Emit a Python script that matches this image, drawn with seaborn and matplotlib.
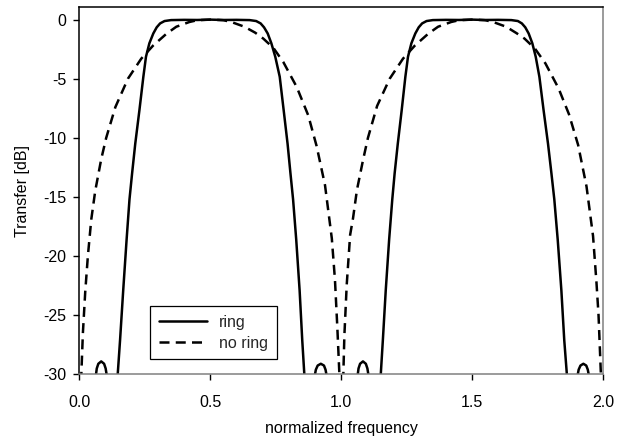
import seaborn as sns
import matplotlib.pyplot as plt
import pandas as pd
from matplotlib.lines import Line2D

# curve readings (normalized frequency, transfer in dB)
ring_main1_freq = [0.144, 0.146, 0.155, 0.167, 0.180, 0.191, 0.201, 0.213, 0.229, 0.244, 0.254, 0.267,
                   0.282, 0.295, 0.308, 0.325, 0.350, 0.400, 0.450, 0.500, 0.550, 0.600, 0.650,
                   0.675, 0.692, 0.705, 0.719, 0.733, 0.748, 0.765, 0.780, 0.795, 0.806, 0.816,
                   0.828, 0.841, 0.851, 0.859, 0.861]
ring_main1_db = [-31.0, -30.0, -27.1, -22.9, -18.6, -15.2, -13.0, -10.5, -7.65, -4.83, -3.14, -2.0,
                 -1.17, -0.65, -0.32, -0.12, -0.04, -0.02, -0.03, 0.0, -0.03, -0.02, -0.04,
                 -0.12, -0.32, -0.65, -1.17, -2.0, -3.14, -4.83, -7.65, -10.5, -13.0, -15.2,
                 -18.6, -22.9, -27.1, -30.0, -31.0]
ring_main2_freq = [1.149, 1.151, 1.159, 1.170, 1.183, 1.195, 1.204, 1.216, 1.231, 1.245, 1.255, 1.268,
                   1.283, 1.296, 1.309, 1.326, 1.350, 1.400, 1.450, 1.500, 1.550, 1.600, 1.650,
                   1.675, 1.690, 1.703, 1.716, 1.730, 1.743, 1.757, 1.773, 1.790, 1.803, 1.814,
                   1.827, 1.841, 1.852, 1.862, 1.864]
ring_main2_db = [-31.0, -30.0, -27.1, -22.9, -18.6, -15.2, -13.0, -10.5, -7.65, -4.83, -3.14, -2.0,
                 -1.17, -0.65, -0.32, -0.12, -0.04, -0.02, -0.03, 0.0, -0.03, -0.02, -0.04,
                 -0.12, -0.32, -0.65, -1.17, -2.0, -3.14, -4.83, -7.65, -10.5, -13.0, -15.2,
                 -18.6, -22.9, -27.1, -30.0, -31.0]
ring_side1_freq = [0.062, 0.066, 0.072, 0.083, 0.094, 0.100, 0.105]
ring_side1_db = [-30.2, -29.5, -29.1, -28.9, -29.1, -29.5, -30.2]
ring_side2_freq = [0.898, 0.903, 0.910, 0.922, 0.934, 0.940, 0.945]
ring_side2_db = [-30.2, -29.6, -29.25, -29.1, -29.25, -29.6, -30.2]
ring_side3_freq = [1.062, 1.066, 1.072, 1.083, 1.094, 1.100, 1.105]
ring_side3_db = [-30.2, -29.5, -29.1, -28.9, -29.1, -29.5, -30.2]
ring_side4_freq = [1.902, 1.907, 1.914, 1.925, 1.936, 1.942, 1.947]
ring_side4_db = [-30.2, -29.6, -29.25, -29.1, -29.25, -29.6, -30.2]

noring1_freq = [0.004, 0.007, 0.013, 0.022, 0.032, 0.045, 0.060, 0.083, 0.102, 0.137, 0.185, 0.236,
                0.281, 0.332, 0.370, 0.420, 0.450, 0.500, 0.550, 0.580, 0.630, 0.671, 0.702, 0.741,
                0.779, 0.830, 0.874, 0.906, 0.938, 0.964, 0.976, 0.985, 0.993, 0.995]
noring1_db = [-32.0, -30.0, -26.5, -23.0, -20.0, -16.9, -14.5, -11.8, -10.0, -7.4, -5.0, -3.3,
              -2.2, -1.2, -0.6, -0.2, -0.05, 0.0, -0.05, -0.2, -0.6, -1.1, -1.6, -2.4,
              -3.6, -5.7, -8.1, -10.7, -14.0, -18.5, -22.0, -26.0, -30.0, -32.0]
noring2_freq = [1.005, 1.008, 1.012, 1.021, 1.034, 1.045, 1.060, 1.083, 1.102, 1.137, 1.185, 1.236,
                1.281, 1.332, 1.370, 1.420, 1.450, 1.500, 1.550, 1.580, 1.630, 1.670, 1.700, 1.740,
                1.780, 1.830, 1.870, 1.905, 1.937, 1.962, 1.975, 1.983, 1.992, 1.995]
noring2_db = [-32.0, -30.0, -26.7, -22.4, -18.2, -16.8, -14.4, -11.9, -10.0, -7.3, -5.0, -3.3,
              -2.2, -1.2, -0.6, -0.2, -0.05, 0.0, -0.05, -0.2, -0.6, -1.15, -1.6, -2.45,
              -3.7, -5.8, -8.0, -10.6, -14.1, -18.3, -22.2, -25.0, -30.0, -32.0]

x_ticks = [0.0, 0.5, 1.0, 1.5, 2.0]
y_ticks = [0, -5, -10, -15, -20, -25, -30]

segments = [
    ("ring", ring_main1_freq, ring_main1_db),
    ("ring", ring_main2_freq, ring_main2_db),
    ("ring", ring_side1_freq, ring_side1_db),
    ("ring", ring_side2_freq, ring_side2_db),
    ("ring", ring_side3_freq, ring_side3_db),
    ("ring", ring_side4_freq, ring_side4_db),
    ("no ring", noring1_freq, noring1_db),
    ("no ring", noring2_freq, noring2_db),
]
rows = []
for i, (name, f, d) in enumerate(segments):
    for fi, di in zip(f, d):
        rows.append({"curve": name, "seg": i, "freq": fi, "db": di})
df = pd.DataFrame(rows)

sns.set_style("ticks")
plt.rcParams["font.family"] = ["Liberation Sans", "DejaVu Sans"]

fs = 11.5
fig = plt.figure(figsize=(6.21, 4.41), dpi=100)
ax = fig.add_axes([0.128, 0.151, 0.843, 0.834])

lw = 1.8
dash = (4, 2.5)
sns.lineplot(data=df, x="freq", y="db", units="seg", estimator=None, style="curve",
             dashes={"ring": "", "no ring": dash}, color="black", linewidth=lw,
             sort=False, legend=False, ax=ax)

ax.set_xlim(0, 2)
ax.set_ylim(-30, 1.1)
ax.set_xticks(x_ticks)
ax.set_xticklabels([f"{t:.1f}" for t in x_ticks])
ax.set_yticks(y_ticks)
ax.set_yticklabels([str(t) for t in y_ticks])
ax.tick_params(direction="out", length=4.5, width=1, labelsize=fs, color="black",
               labelcolor="black")
ax.tick_params(axis="x", pad=10)
ax.tick_params(axis="y", pad=5)
ax.set_xlabel("normalized frequency", fontsize=fs, labelpad=8, color="black")
ax.set_ylabel("Transfer [dB]", fontsize=fs, labelpad=9.5, color="black")

for side in ["left", "top"]:
    ax.spines[side].set_color("black")
for side in ["bottom", "right"]:
    ax.spines[side].set_color("#808080")
for s in ax.spines.values():
    s.set_linewidth(1.1)
    s.set_visible(True)

handles = [Line2D([], [], color="black", lw=lw),
           Line2D([], [], color="black", lw=lw, dashes=dash)]
leg = ax.legend(handles, ["ring", "no ring"], loc="lower left", bbox_to_anchor=(0.135, 0.041),
                borderaxespad=0, fontsize=fs, handlelength=3.0, handletextpad=0.75,
                labelspacing=0.35, borderpad=0.55, fancybox=False, framealpha=1)
leg.get_frame().set_edgecolor("black")
leg.get_frame().set_linewidth(0.9)

fig.savefig("out.png", dpi=100)
